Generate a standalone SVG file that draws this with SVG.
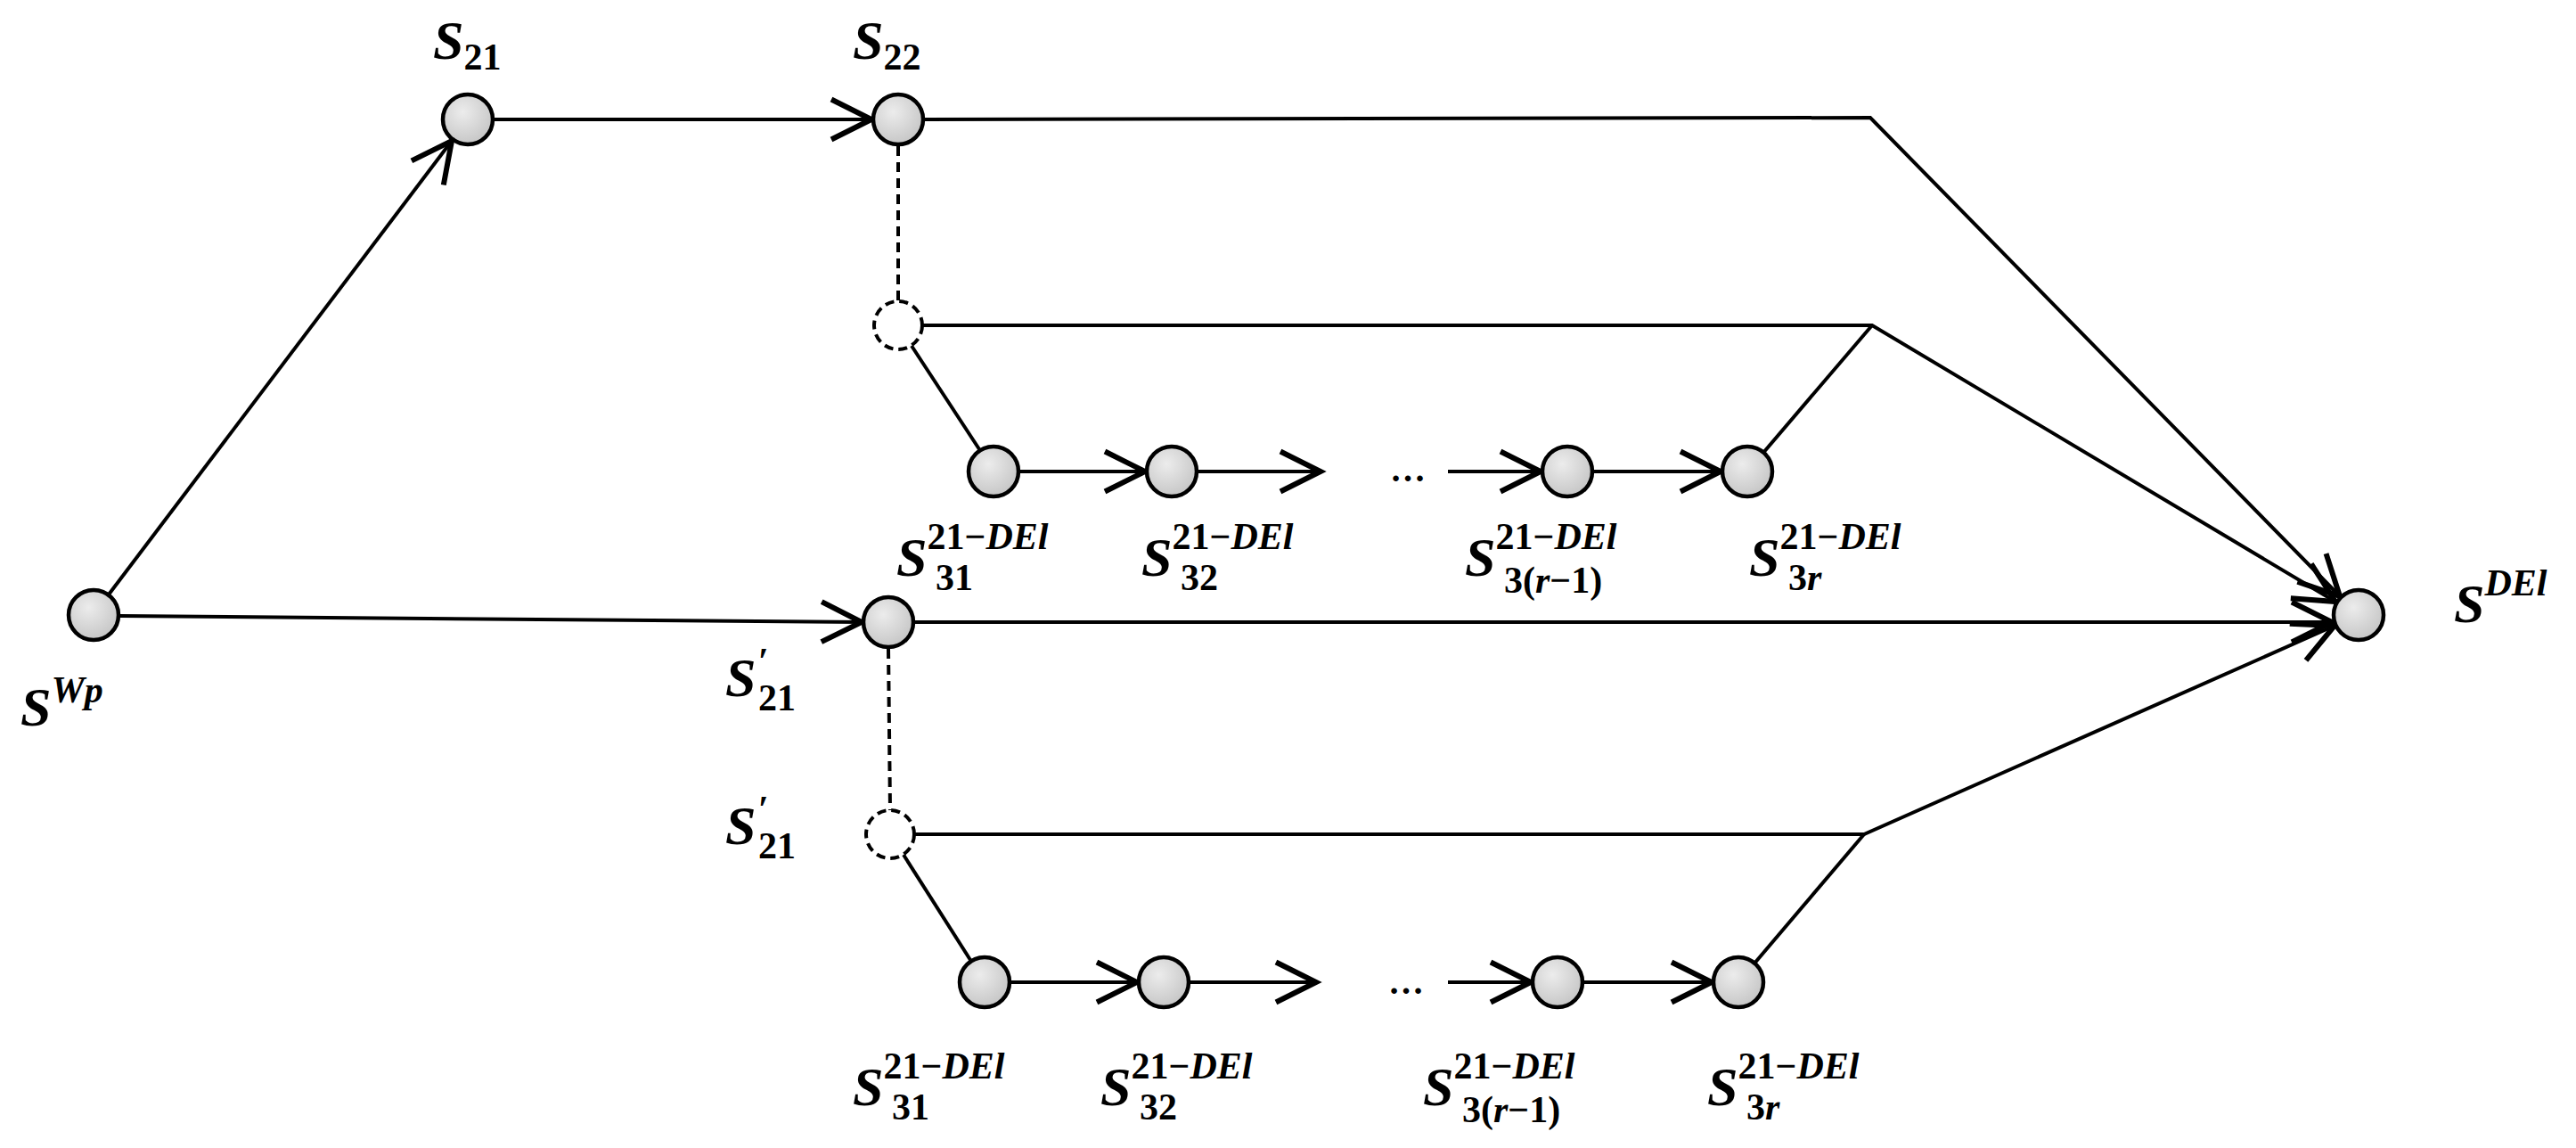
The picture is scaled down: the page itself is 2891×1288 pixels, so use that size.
<svg xmlns="http://www.w3.org/2000/svg" width="2891" height="1288" viewBox="0 0 2891 1288">
<style>
.e{stroke:#000;stroke-width:4;fill:none}
.a{marker-end:url(#ar)}
.d{stroke:#000;stroke-width:4;fill:none;stroke-dasharray:11 7}
.n{fill:url(#g);stroke:#000;stroke-width:4.5}
.nd{fill:#fff;stroke:#000;stroke-width:4;stroke-dasharray:10 6}
text{font-family:"Liberation Serif",serif;font-weight:bold;fill:#000}
.m{font-size:62px;font-style:italic}
.s{font-size:42px}
.i{font-style:italic}
</style>
<defs>
<radialGradient id="g" cx="0.4" cy="0.35" r="0.7"><stop offset="0" stop-color="#ececec"/><stop offset="1" stop-color="#c4c4c4"/></radialGradient>
<marker id="ar" markerUnits="userSpaceOnUse" markerWidth="60" markerHeight="60" refX="0" refY="0" viewBox="-34 -20 40 40" orient="auto"><path d="M-30,-15 L0,0 L-30,15" fill="none" stroke="#000" stroke-width="4"/></marker>
</defs>
<g id="connectors">
<line class="e a" x1="122" y1="667" x2="507" y2="158"/>
<line class="e a" x1="555" y1="134" x2="978" y2="134"/>
<polyline class="e a" points="1038,134 2099,132 2626,669"/>
<line class="d" x1="1008" y1="164" x2="1008" y2="338"/>
<polyline class="e a" points="1035,365 2101,365 2621,675"/>
<line class="e" x1="1023" y1="388" x2="1099" y2="504"/>
<line class="e a" x1="1145" y1="529" x2="1285" y2="529"/>
<line class="e a" x1="1345" y1="529" x2="1482" y2="529"/>
<line class="e a" x1="1625" y1="529" x2="1729" y2="529"/>
<line class="e a" x1="1789" y1="529" x2="1931" y2="529"/>
<polyline class="e" points="1978,509 2101,365"/>
<line class="e a" x1="134" y1="691" x2="967" y2="698"/>
<line class="e a" x1="1027" y1="698" x2="2617" y2="698"/>
<line class="d" x1="997" y1="728" x2="999" y2="909"/>
<polyline class="e a" points="1026,936 2092,936 2620,702"/>
<line class="e" x1="1014" y1="959" x2="1089" y2="1077"/>
<line class="e a" x1="1135" y1="1102" x2="1276" y2="1102"/>
<line class="e a" x1="1336" y1="1102" x2="1477" y2="1102"/>
<line class="e a" x1="1625" y1="1102" x2="1718" y2="1102"/>
<line class="e a" x1="1778" y1="1102" x2="1921" y2="1102"/>
<polyline class="e" points="1968,1082 2092,936"/>
</g>
<g id="SWp"><circle class="n" cx="105" cy="690" r="28"/><text x="23" y="814"><tspan class="m">S</tspan><tspan class="s i" dy="-26">Wp</tspan></text></g>
<g id="S21"><circle class="n" cx="525" cy="134" r="28"/><text x="486" y="66"><tspan class="m">S</tspan><tspan class="s" dy="12">21</tspan></text></g>
<g id="S22"><circle class="n" cx="1008" cy="134" r="28"/><text x="957" y="66"><tspan class="m">S</tspan><tspan class="s" dy="12">22</tspan></text></g>
<g id="D1"><circle class="nd" cx="1008" cy="365" r="27"/></g>
<g id="S31a"><circle class="n" cx="1115" cy="529" r="28"/><text x="1006" y="646"><tspan class="m">S</tspan><tspan class="s" dy="-30">21−<tspan class="i">DEl</tspan></tspan></text><text x="1050" y="662" class="s">31</text></g>
<g id="S32a"><circle class="n" cx="1315" cy="529" r="28"/><text x="1281" y="646"><tspan class="m">S</tspan><tspan class="s" dy="-30">21−<tspan class="i">DEl</tspan></tspan></text><text x="1325" y="662" class="s">32</text></g>
<text x="1560" y="540" style="font-size:40px">…</text>
<g id="S3r1a"><circle class="n" cx="1759" cy="529" r="28"/><text x="1644" y="646"><tspan class="m">S</tspan><tspan class="s" dy="-30">21−<tspan class="i">DEl</tspan></tspan></text><text x="1688" y="665" class="s">3(<tspan class="i">r</tspan>−1)</text></g>
<g id="S3ra"><circle class="n" cx="1961" cy="529" r="28"/><text x="1963" y="646"><tspan class="m">S</tspan><tspan class="s" dy="-30">21−<tspan class="i">DEl</tspan></tspan></text><text x="2007" y="662" class="s">3<tspan class="i">r</tspan></text></g>
<g id="S21p"><circle class="n" cx="997" cy="698" r="28"/><text x="814" y="781"><tspan class="m">S</tspan></text><text x="851" y="756" class="s">′</text><text x="851" y="797" class="s">21</text></g>
<g id="D2"><circle class="nd" cx="999" cy="936" r="27"/><text x="814" y="947"><tspan class="m">S</tspan></text><text x="851" y="922" class="s">′</text><text x="851" y="963" class="s">21</text></g>
<g id="S31b"><circle class="n" cx="1105" cy="1102" r="28"/><text x="957" y="1240"><tspan class="m">S</tspan><tspan class="s" dy="-30">21−<tspan class="i">DEl</tspan></tspan></text><text x="1001" y="1256" class="s">31</text></g>
<g id="S32b"><circle class="n" cx="1306" cy="1102" r="28"/><text x="1235" y="1240"><tspan class="m">S</tspan><tspan class="s" dy="-30">21−<tspan class="i">DEl</tspan></tspan></text><text x="1279" y="1256" class="s">32</text></g>
<text x="1558" y="1115" style="font-size:40px">…</text>
<g id="S3r1b"><circle class="n" cx="1748" cy="1102" r="28"/><text x="1597" y="1240"><tspan class="m">S</tspan><tspan class="s" dy="-30">21−<tspan class="i">DEl</tspan></tspan></text><text x="1641" y="1259" class="s">3(<tspan class="i">r</tspan>−1)</text></g>
<g id="S3rb"><circle class="n" cx="1951" cy="1102" r="28"/><text x="1916" y="1240"><tspan class="m">S</tspan><tspan class="s" dy="-30">21−<tspan class="i">DEl</tspan></tspan></text><text x="1960" y="1256" class="s">3<tspan class="i">r</tspan></text></g>
<g id="SDEl"><circle class="n" cx="2647" cy="690" r="28"/><text x="2754" y="698"><tspan class="m">S</tspan><tspan class="s i" dy="-30">DEl</tspan></text></g>
</svg>
